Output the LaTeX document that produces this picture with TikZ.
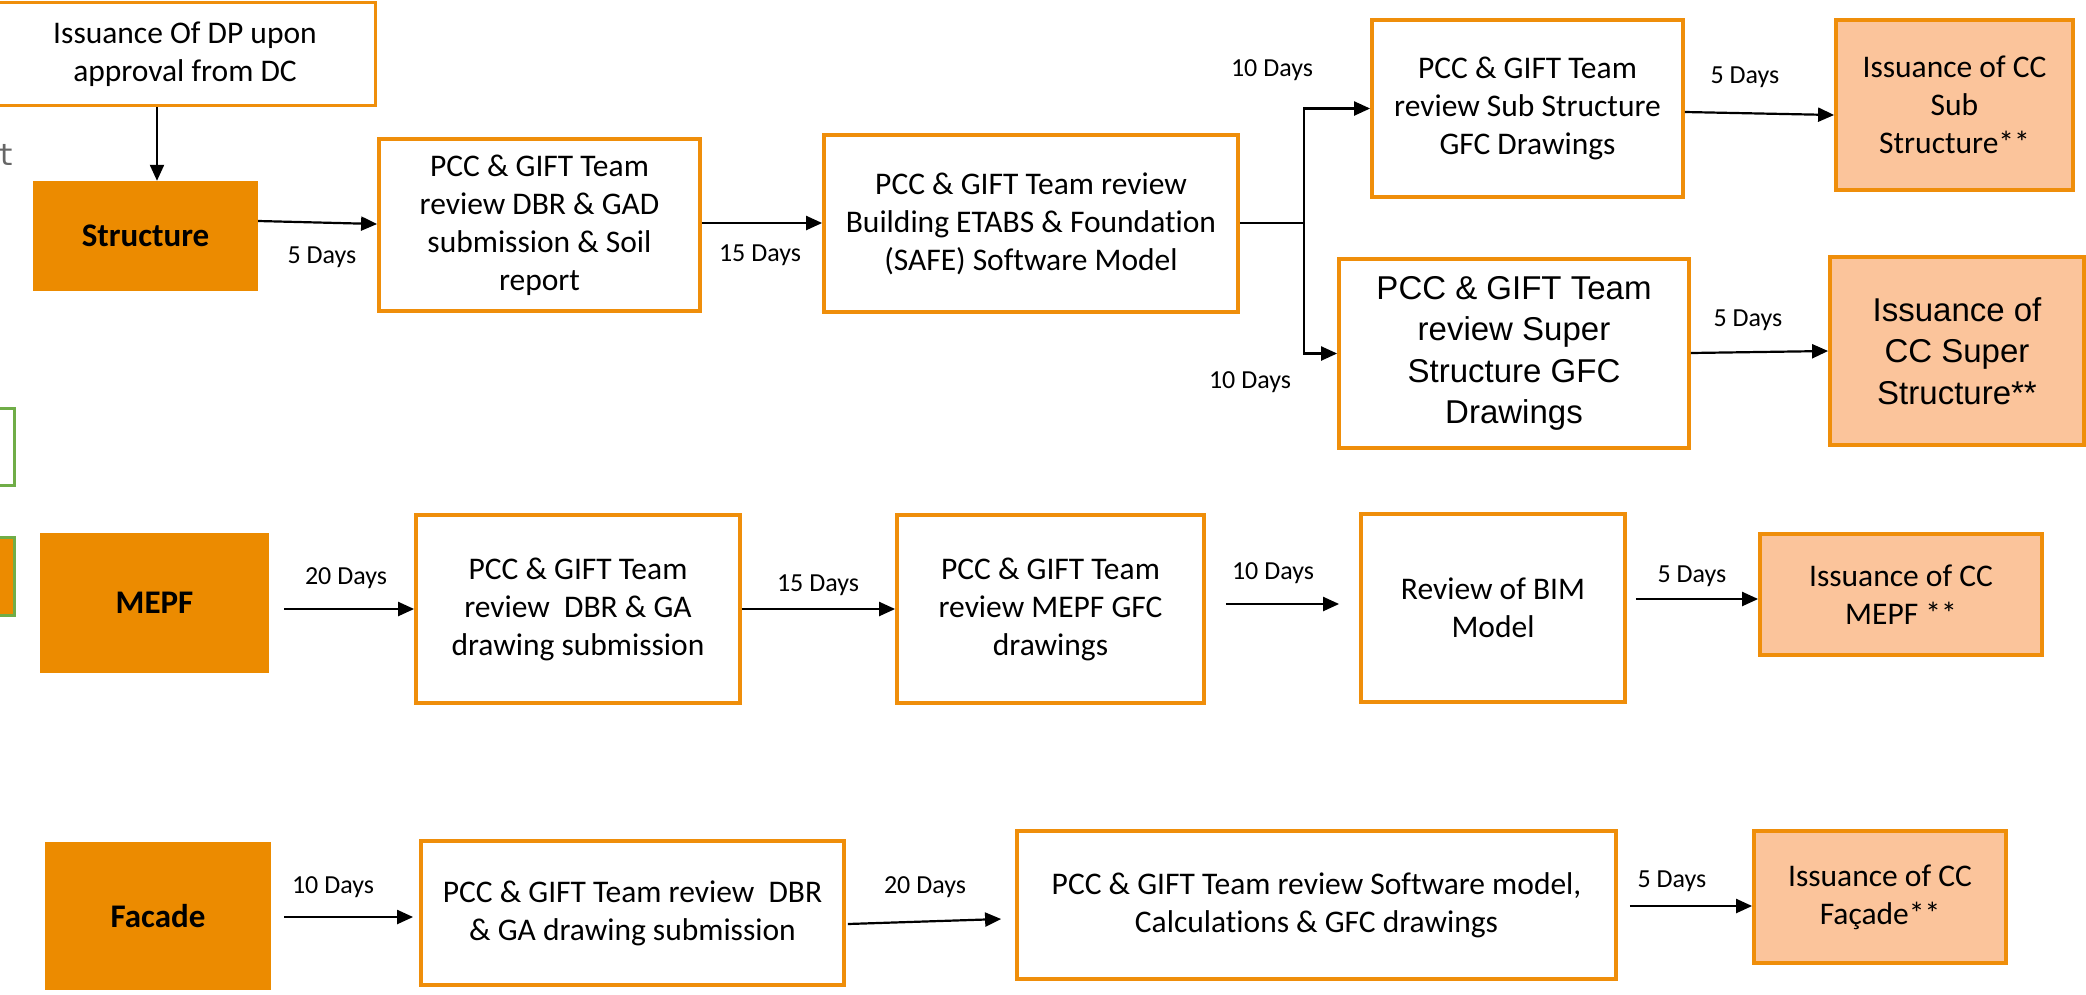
\documentclass[tikz,border=0pt]{standalone}
\usepackage{fontspec}
\setmainfont{Carlito}[Ligatures=NoCommon]
\newfontfamily\arialf{Liberation Sans}
\newfontfamily\monof{DejaVu Sans Mono}
\usetikzlibrary{arrows.meta,calc}
\definecolor{boxor}{HTML}{EF8E0A}
\definecolor{orfill}{HTML}{EC8B00}
\definecolor{peach}{HTML}{FBC49B}
\definecolor{grn}{HTML}{70AD47}
\definecolor{gtxt}{HTML}{666666}
\tikzset{
  wbox/.style={draw=boxor, line width=3.8pt, fill=white, inner sep=0pt, align=center, font=\fontsize{31.5}{38}\selectfont},
  abox/.style={wbox, font=\arialf\fontsize{33}{41.5}\selectfont},
  obox/.style={fill=orfill, inner sep=0pt, align=center, font=\bfseries\fontsize{33}{40}\selectfont},
  ibox/.style={wbox, fill=peach},
  iabox/.style={abox, fill=peach},
  days/.style={font=\fontsize{26}{30}\selectfont, inner sep=0pt},
  arr/.style={line width=2.2pt, -{Triangle[length=16pt,width=14pt]}},
  ln/.style={line width=2.2pt},
}
\begin{document}
\begin{tikzpicture}[x=1pt,y=-1pt]
\fill[white] (0,0) rectangle (2086,994);
\useasboundingbox (0,0) rectangle (2086,994);

% partial elements at the left edge
\node[anchor=base east, inner sep=0pt, text=gtxt, font=\monof\fontsize{30}{34}\selectfont] (tcut) at (15,165) {t};
\node[draw=grn, line width=3pt, fill=white, minimum width=50pt, minimum height=77pt, inner sep=0pt] (g1) at (-11,447) {};
\node[draw=grn, line width=3pt, fill=orfill, minimum width=50pt, minimum height=78pt, inner sep=0pt] (g2) at (-11,576.5) {};

% Structure row
\node[wbox, minimum width=381pt, minimum height=103pt] (dp) at (185,54) {Issuance Of DP upon\\approval from DC};
\node[obox, minimum width=225pt, minimum height=110pt] (st) at (145.5,236) {Structure};
\node[wbox, minimum width=321pt, minimum height=172pt] (b2) at (539.5,225) {PCC \& GIFT Team\\review DBR \& GAD\\submission \& Soil\\report};
\node[wbox, minimum width=414pt, minimum height=177pt] (b3) at (1031,223.5) {PCC \& GIFT Team review\\Building ETABS \& Foundation\\(SAFE) Software Model};
\node[wbox, minimum width=311pt, minimum height=177pt] (sub) at (1527.5,108.5) {PCC \& GIFT Team\\review Sub Structure\\GFC Drawings};
\node[ibox, minimum width=237pt, minimum height=170pt] (isub) at (1954.5,105) {Issuance of CC\\Sub\\Structure**};
\node[abox, minimum width=350pt, minimum height=189pt] (sup) at (1514,353.5) {PCC \& GIFT Team\\review Super\\Structure GFC\\Drawings};
\node[iabox, minimum width=254pt, minimum height=188pt] (isup) at (1957,351) {Issuance of\\CC Super\\Structure**};

\draw[arr] (dp.south -| 157,0) -- (st.north -| 157,0);
\draw[arr] (st.east |- 0,221) -- (b2.west |- 0,224);
\draw[arr] (b2.east |- 0,223) -- (b3.west |- 0,223);
\coordinate (fork) at (1304,223);
\draw[ln] (b3.east |- fork) -- (fork);
\draw[arr] (fork) |- (sub.west);
\draw[arr] (fork) |- (sup.west);
\draw[arr] (sub.east |- 0,112) -- (isub.west |- 0,115);
\draw[arr] (sup.east |- 0,353) -- (isup.west |- 0,351);

\node[days] (d1) at (322,257) {5 Days};
\node[days] (d2) at (760,255) {15 Days};
\node[days] (d3) at (1272,70) {10 Days};
\node[days] (d4) at (1250,382) {10 Days};
\node[days] (d5) at (1745,77) {5 Days};
\node[days] (d6) at (1748,320) {5 Days};

% MEPF row
\node[obox, minimum width=229pt, minimum height=140pt] (mepf) at (154.5,603) {MEPF};
\node[wbox, minimum width=324pt, minimum height=188pt] (m2) at (578,609) {PCC \& GIFT Team\\review\ \ DBR \& GA\\drawing submission};
\node[wbox, minimum width=307pt, minimum height=188pt] (m3) at (1050.5,609) {PCC \& GIFT Team\\review MEPF GFC\\drawings};
\node[wbox, minimum width=264pt, minimum height=188pt] (bim) at (1493,608) {Review of BIM\\Model};
\node[ibox, minimum width=282pt, minimum height=121pt] (imepf) at (1901,594.5) {Issuance of CC\\MEPF **};

\draw[arr] ($(mepf.east |- 0,609)+(15,0)$) -- (m2.west |- 0,609);
\draw[arr] (m2.east |- 0,609) -- (m3.west |- 0,609);
\draw[arr] ($(m3.east |- 0,604)+(20,0)$) -- ($(bim.west |- 0,604)+(-20,0)$);
\draw[arr] ($(bim.east |- 0,599)+(9,0)$) -- (imepf.west |- 0,599);

\node[days] (d7) at (346,578) {20 Days};
\node[days] (d8) at (818,585) {15 Days};
\node[days] (d9) at (1273,573) {10 Days};
\node[days] (d10) at (1692,576) {5 Days};

% Facade row
\node[obox, minimum width=226pt, minimum height=148pt] (fac) at (158,916) {Facade};
\node[wbox, minimum width=423pt, minimum height=144pt] (f2) at (632.5,913) {PCC \& GIFT Team review\ \ DBR\\\& GA drawing submission};
\node[wbox, minimum width=599pt, minimum height=148pt] (f3) at (1316.5,905) {PCC \& GIFT Team review Software model,\\Calculations \& GFC drawings};
\node[ibox, minimum width=252pt, minimum height=132pt] (ifac) at (1880,897) {Issuance of CC\\Façade**};

\draw[arr] ($(fac.east |- 0,917)+(13,0)$) -- ($(f2.west |- 0,917)+(-6,0)$);
\draw[arr] ($(f2.east |- 0,924)+(2,0)$) -- ($(f3.west |- 0,919)+(-14,0)$);
\draw[arr] ($(f3.east |- 0,906)+(12,0)$) -- (ifac.west |- 0,906);

\node[days] (d11) at (333,887) {10 Days};
\node[days] (d12) at (925,887) {20 Days};
\node[days] (d13) at (1672,881) {5 Days};
\end{tikzpicture}
\end{document}
